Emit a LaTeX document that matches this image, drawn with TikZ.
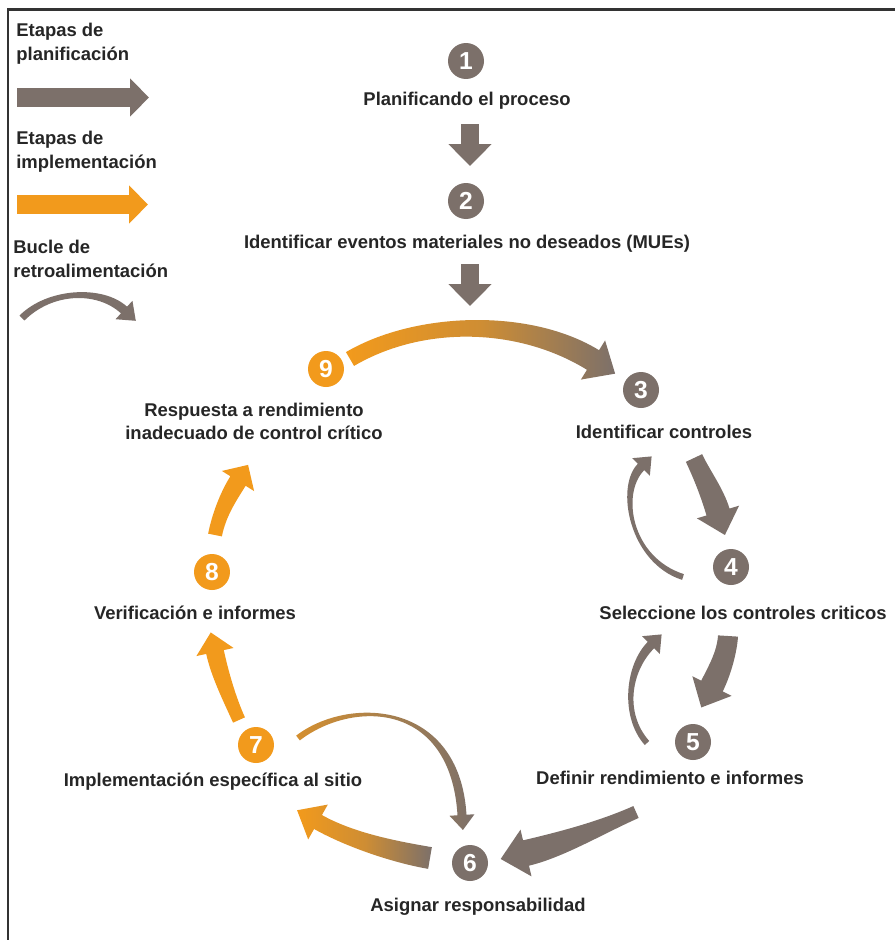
\documentclass[tikz,border=0pt]{standalone}
\usepackage{fontspec}
\setmainfont{Liberation Sans}
\usetikzlibrary{arrows.meta,calc}
\definecolor{gry}{RGB}{124,112,106}
\definecolor{orng}{RGB}{242,154,28}
\definecolor{txt}{RGB}{38,38,38}
\tikzset{
  num/.style={circle, fill=#1, text=white, minimum size=0.72cm, inner sep=0pt, font=\fontsize{14}{14}\selectfont\bfseries},
  lbl/.style={text=txt, inner sep=0pt, font=\fontsize{10.5}{13}\selectfont\bfseries, align=center},
  leg/.style={text=txt, inner sep=0pt, font=\fontsize{10.5}{13.5}\selectfont\bfseries, align=left, anchor=west},
  sarrow/.style={draw=gry, line width=0.36cm, -{Triangle[width=0.84cm,length=0.44cm]}},
  legarrow/.style={line width=0.38cm, -{Triangle[width=0.74cm,length=0.38cm]}},
  gfill/.style={fill=gry},
  ofill/.style={fill=orng},
  ogshade/.style={left color=orng, right color=gry, middle color=orng!70!gry},
  fbshade/.style={left color=orng!75!gry, right color=gry},
}
% tapered arrow band along a cubic curve: P0,P1,P2,P3 (P3 = base of the head)
\newcommand\setbandw[4]{\def\bwA{#1}\def\bwD{#2}\def\bhw{#3}\def\bhl{#4}}
\newcommand\tband[5]{%
  \path[#1] ($(#2)!\bwA!90:(#3)$) .. controls ($(#3)!\bwA!-90:(#2)$) and ($(#4)!\bwD!90:(#5)$) .. ($(#5)!\bwD!-90:(#4)$)
   -- ($(#5)!\bhw!-90:(#4)$) -- ($(#5)!-\bhl!(#4)$) -- ($(#5)!\bhw!90:(#4)$)
   -- ($(#5)!\bwD!90:(#4)$) .. controls ($(#4)!\bwD!-90:(#5)$) and ($(#3)!\bwA!90:(#2)$) .. ($(#2)!\bwA!-90:(#3)$) -- cycle;}
\begin{document}
\begin{tikzpicture}[x=0.02cm,y=-0.02cm]
\useasboundingbox (0,0) rectangle (895,940);
\fill[white] (0,0) rectangle (895,940);
\draw[line width=0.06cm, draw=black!80] (8,940) -- (8,9) -- (895,9);

% legend
\node[leg] (L1) at (16,44) {Etapas de\\planificación};
\coordinate (la1) at (17,97.5); \coordinate (lb1) at (149,97.5);
\draw[legarrow, draw=gry] (la1) -- (lb1);
\node[leg] (L2) at (16,152) {Etapas de\\implementación};
\coordinate (la2) at (17,204.5); \coordinate (lb2) at (148,204.5);
\draw[legarrow, draw=orng] (la2) -- (lb2);
\node[leg] (L3) at (13,259) {Bucle de\\retroalimentación};
\coordinate (lg0) at (22,318); \coordinate (lg1) at (50,290);
\coordinate (lg2) at (100,288); \coordinate (lg3) at (124,310);
\setbandw{0.07cm}{0.09cm}{0.25cm}{0.32cm}
\tband{gfill}{lg0}{lg1}{lg2}{lg3}

% step circles
\node[num=gry]  (c1) at (466,61)  {1};
\node[num=gry]  (c2) at (466,201) {2};
\node[num=gry]  (c3) at (641,390) {3};
\node[num=gry]  (c4) at (731,567) {4};
\node[num=gry]  (c5) at (693,742) {5};
\node[num=gry]  (c6) at (470,863) {6};
\node[num=orng] (c7) at (256,745) {7};
\node[num=orng] (c8) at (212,572) {8};
\node[num=orng] (c9) at (326,369) {9};

% labels
\node[lbl] (t1) at (467,101) {Planificando el proceso};
\node[lbl] (t2) at (467,244) {Identificar eventos materiales no deseados (MUEs)};
\node[lbl] (t3) at (664,432) {Identificar controles};
\node[lbl] (t4) at (743,613) {Seleccione los controles criticos};
\node[lbl] (t5) at (670,778) {Definir rendimiento e informes};
\node[lbl] (t6) at (478,907) {Asignar responsabilidad};
\node[lbl] (t7) at (213,782) {Implementación específica al sitio};
\node[lbl] (t8) at (195,613) {Verificación e informes};
\node[lbl] (t9) at (254,421.5) {Respuesta a rendimiento\\inadecuado de control crítico};

% straight planning arrows
\coordinate (a12) at (470,124); \coordinate (b12) at (470,166);
\draw[sarrow] (a12) -- (b12);
\coordinate (a23) at (470,264); \coordinate (b23) at (470,306);
\draw[sarrow] (a23) -- (b23);

% 9 -> 3 (orange to grey)
\coordinate (p930) at (350,359); \coordinate (p931) at (420,318);
\coordinate (p932) at (525,318); \coordinate (p933) at (593,360);
\setbandw{0.16cm}{0.23cm}{0.46cm}{0.52cm}
\tband{ogshade}{p930}{p931}{p932}{p933}

% 3 -> 4
\coordinate (p340) at (694,458); \coordinate (p341) at (702,475);
\coordinate (p342) at (712,492); \coordinate (p343) at (718,512);
\setbandw{0.18cm}{0.24cm}{0.44cm}{0.48cm}
\tband{gfill}{p340}{p341}{p342}{p343}

% 4 -> 5
\coordinate (p450) at (728,636); \coordinate (p451) at (727,652);
\coordinate (p452) at (720,670); \coordinate (p453) at (712,686);
\setbandw{0.2cm}{0.24cm}{0.44cm}{0.48cm}
\tband{gfill}{p450}{p451}{p452}{p453}

% 5 -> 6
\coordinate (p560) at (636,812); \coordinate (p561) at (600,828);
\coordinate (p562) at (560,845); \coordinate (p563) at (526,853);
\setbandw{0.13cm}{0.26cm}{0.48cm}{0.52cm}
\tband{gfill}{p560}{p561}{p562}{p563}

% 6 -> 7 (grey to orange)
\coordinate (p670) at (430,858); \coordinate (p671) at (395,852);
\coordinate (p672) at (350,840); \coordinate (p673) at (318,822);
\setbandw{0.22cm}{0.16cm}{0.4cm}{0.48cm}
\tband{ogshade}{p670}{p671}{p672}{p673}

% 7 -> 8
\coordinate (p780) at (239,720); \coordinate (p781) at (230,700);
\coordinate (p782) at (220,675); \coordinate (p783) at (215,652);
\setbandw{0.13cm}{0.18cm}{0.38cm}{0.4cm}
\tband{ofill}{p780}{p781}{p782}{p783}

% 8 -> 9
\coordinate (p890) at (215,535); \coordinate (p891) at (219,515);
\coordinate (p892) at (228,497); \coordinate (p893) at (238,481);
\setbandw{0.14cm}{0.18cm}{0.38cm}{0.38cm}
\tband{ofill}{p890}{p891}{p892}{p893}

% feedback loops
\setbandw{0.06cm}{0.09cm}{0.25cm}{0.3cm}
\coordinate (q430) at (683,577); \coordinate (q431) at (630,560);
\coordinate (q432) at (618,490); \coordinate (q433) at (641,467);
\tband{gfill}{q430}{q431}{q432}{q433}
\coordinate (q540) at (647,743); \coordinate (q541) at (622,715);
\coordinate (q542) at (628,668); \coordinate (q543) at (651,645);
\tband{gfill}{q540}{q541}{q542}{q543}
\coordinate (q760) at (298,738); \coordinate (q761) at (350,698);
\coordinate (q762) at (455,700); \coordinate (q763) at (462,815);
\tband{fbshade}{q760}{q761}{q762}{q763}
\end{tikzpicture}
\end{document}
